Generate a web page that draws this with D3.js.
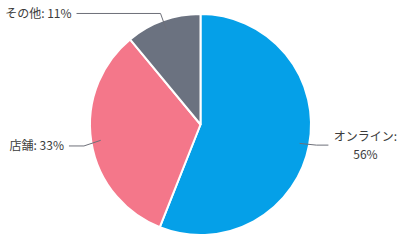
<!DOCTYPE html>
<html><head><meta charset="utf-8">
<script src="https://cdn.jsdelivr.net/npm/d3@7/dist/d3.min.js"></script>
<style>html,body{margin:0;padding:0;background:#fff;}svg{display:block;}</style>
</head><body>
<svg id="c" width="403" height="247"></svg>
<script>
const categories = ["オンライン", "店舗", "その他"];
const values = [56, 33, 11];
const colors = ["#05a0e8", "#f4778a", "#6b7280"];

const W = 403, H = 247;
const cx = 200.5, cy = 124.5, R = 110.5;
const svg = d3.select("#c");
const g = svg.append("g").attr("transform", `translate(${cx},${cy})`);

const pie = d3.pie().sort(null).value(d => d.v);
const arcs = pie(categories.map((c, i) => ({c, v: values[i]})));
const arc = d3.arc().innerRadius(0).outerRadius(R);

g.selectAll("path.slice").data(arcs).join("path")
  .attr("class", "slice")
  .attr("d", arc)
  .attr("fill", (d, i) => colors[i])
  .attr("stroke", "#fff").attr("stroke-width", 2).attr("stroke-linejoin", "round");

const total = d3.sum(values);
const font = "'Noto Sans CJK JP','Noto Sans',sans-serif";
const horiz = [12, 15, 84];
const yAdj = [-1.5, 3, 0];

arcs.forEach((d, i) => {
  const a = (d.startAngle + d.endAngle) / 2;
  const dx = Math.sin(a), dy = -Math.cos(a);
  const p0 = [dx * 101, dy * 101];
  const p1 = [dx * 118, dy * 118 + yAdj[i]];
  const right = dx > 0;
  const p2 = [p1[0] + (right ? horiz[i] : -horiz[i]), p1[1]];
  g.append("polyline")
    .attr("points", [p0, p1, p2].map(p => p.join(",")).join(" "))
    .attr("fill", "none").attr("stroke", "#6e7079").attr("stroke-width", 1);
  const pct = Math.round(d.data.v / total * 100) + "%";
  if (i === 0) {
    const t = g.append("text").attr("font-family", font).attr("font-size", 12)
      .attr("fill", "#3c3c3c").attr("text-anchor", "middle");
    const tx = p2[0] + 5 + 32;
    t.append("tspan").attr("x", tx).attr("y", p2[1] - 9 + 4.5).text(d.data.c + ":");
    t.append("tspan").attr("x", tx).attr("y", p2[1] + 9 + 4.5).text(pct);
  } else {
    g.append("text").attr("font-family", font).attr("font-size", 12)
      .attr("fill", "#3c3c3c")
      .attr("text-anchor", right ? "start" : "end")
      .attr("x", p2[0] + (right ? 5 : -5))
      .attr("y", p2[1] + 4.5)
      .text(d.data.c + ": " + pct);
  }
});
</script>
</body></html>
